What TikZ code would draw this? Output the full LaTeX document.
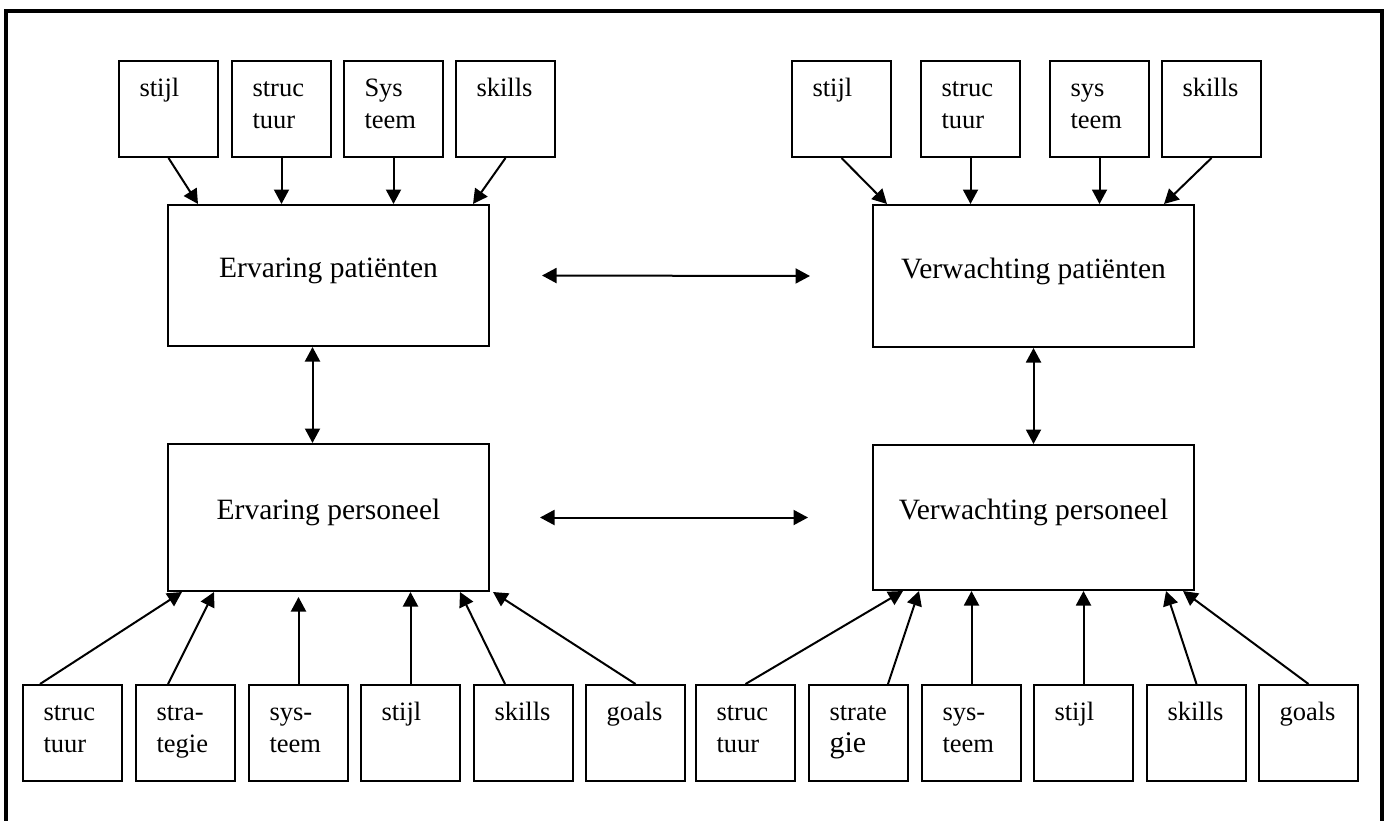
\documentclass[tikz,border=0pt]{standalone}
\usepackage{fontspec}
\setmainfont{Liberation Serif}
\usetikzlibrary{arrows.meta,positioning}

\begin{document}
\begin{tikzpicture}[x=0.4pt,y=-0.4pt,
		>={Triangle[length=5.8pt,width=6pt]},
		sbox/.style={draw,line width=0.8pt,anchor=north west,inner sep=0pt,minimum width=39.6pt,minimum height=38.4pt},
		stxt/.style={anchor=north west,inner sep=0pt,text width=30pt,align=left,font=\fontsize{10.6}{12.6}\selectfont,execute at begin node=\strut},
		mbox/.style={draw,line width=0.8pt,anchor=north west,inner sep=0pt,minimum width=128.4pt,font=\fontsize{11.8}{14}\selectfont,text height=8.1pt,text depth=6.2pt},
		link/.style={->,line width=0.8pt}]
	\useasboundingbox (0,0) rectangle (1390,820);
	\begin{scope}
		\clip (0,0) rectangle (1390,820);
		\draw[line width=1.6pt] (6,11) rectangle (1382,840);
	\end{scope}
	% hoofdblokken
	\node[mbox,minimum height=56.4pt] (ep) at (167,204) {Ervaring patiënten};
	\node[mbox,minimum height=58.8pt] (epe) at (167,443) {Ervaring personeel};
	\node[mbox,minimum height=56.8pt] (vp) at (872,204) {Verwachting patiënten};
	\node[mbox,minimum height=58pt] (vpe) at (872,444) {Verwachting personeel};
	% kleine blokken
	\foreach \x/\t [count=\i] in {118/stijl,231/{struc\\tuur},343/{Sys\\teem},455/skills}{
		\node[sbox] (tl\i) at (\x,60) {};
		\node[stxt] (tl\i-t) at ([shift={(21,14)}]tl\i.north west) {\t};
	}
	\foreach \x/\t [count=\i] in {791/stijl,920/{struc\\tuur},1049/{sys\\teem},1161/skills}{
		\node[sbox] (tr\i) at (\x,60) {};
		\node[stxt] (tr\i-t) at ([shift={(21,14)}]tr\i.north west) {\t};
	}
	\foreach \x/\t [count=\i] in {22/{struc\\tuur},135/{stra-\\tegie},248/{sys-\\teem},360/stijl,473/skills,585/goals}{
		\node[sbox] (bl\i) at (\x,684) {};
		\node[stxt] (bl\i-t) at ([shift={(21,14)}]bl\i.north west) {\t};
	}
	\foreach \x/\t [count=\i] in {695/{struc\\tuur},808/{strate\\{\fontsize{12}{12.6}\selectfont gie}},921/{sys-\\teem},1033/stijl,1146/skills,1258/goals}{
		\node[sbox] (br\i) at (\x,684) {};
		\node[stxt] (br\i-t) at ([shift={(21,14)}]br\i.north west) {\t};
	}
	% pijlen boven
	\draw[link] (tl1.south) -- ([shift={(31,0)}]ep.north west);
	\draw[link] (tl2.south) -- (tl2.south |- ep.north);
	\draw[link] (tl3.south) -- (tl3.south |- ep.north);
	\draw[link] (tl4.south) -- ([shift={(-17,0)}]ep.north east);
	\draw[link] (tr1.south) -- ([shift={(15,0)}]vp.north west);
	\draw[link] (tr2.south) -- (tr2.south |- vp.north);
	\draw[link] (tr3.south) -- (tr3.south |- vp.north);
	\draw[link] (tr4.south) -- ([shift={(-31,0)}]vp.north east);
	% pijlen tussen de blokken
	\draw[link,<->] ([shift={(-16,0)}]ep.south) -- ([shift={(-16,0)}]epe.north);
	\draw[link,<->] (vp.south) -- (vpe.north);
	\draw[link,<->] ([shift={(52,0)}]ep.east) -- ([shift={(-62,0)}]vp.west);
	\draw[link,<->] ([shift={(50,0)}]epe.east) -- ([shift={(-64,0)}]vpe.west);
	% pijlen onder
	\draw[link] ([shift={(18,0)}]bl1.north west) -- ([shift={(15,0)}]epe.south west);
	\draw[link] ([shift={(33,0)}]bl2.north west) -- ([shift={(47,0)}]epe.south west);
	\draw[link] (bl3.north) -- ([shift={(0,-87)}]bl3.north);
	\draw[link] (bl4.north) -- (bl4.north |- epe.south);
	\draw[link] ([shift={(32,0)}]bl5.north west) -- ([shift={(-30,0)}]epe.south east);
	\draw[link] (bl6.north) -- ([shift={(3,0)}]epe.south east);
	\draw[link] (br1.north) -- ([shift={(31,0)}]vpe.south west);
	\draw[link] ([shift={(80,0)}]br2.north west) -- ([shift={(47,0)}]vpe.south west);
	\draw[link] (br3.north) -- (br3.north |- vpe.south);
	\draw[link] (br4.north) -- (br4.north |- vpe.south);
	\draw[link] (br5.north) -- ([shift={(-29,0)}]vpe.south east);
	\draw[link] (br6.north) -- ([shift={(-12,0)}]vpe.south east);
\end{tikzpicture}
\end{document}
